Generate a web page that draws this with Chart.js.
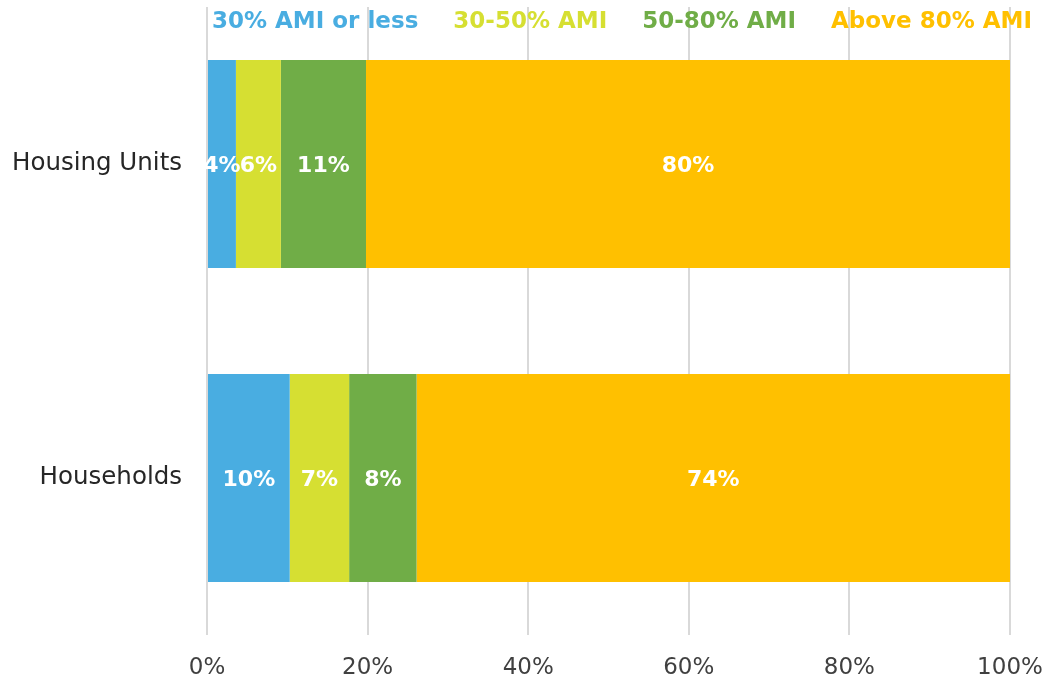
<!DOCTYPE html>
<html>
<head>
<meta charset="utf-8">
<title>Affordability by AMI</title>
<script src="https://cdn.jsdelivr.net/npm/chart.js@4.4.1/dist/chart.umd.min.js"></script>
<style>
  html, body { margin: 0; padding: 0; background: #fff; }
  #wrap { width: 1047px; height: 685px; position: relative; }
</style>
</head>
<body>
<div id="wrap"><canvas id="myChart"></canvas></div>
<script>
const categories = ["Housing Units", "Households"];
const seriesNames = ["30% AMI or less", "30-50% AMI", "50-80% AMI", "Above 80% AMI"];
const seriesColors = ["#49ADE1", "#D6DF32", "#70AD47", "#FFC000"];
const ami30 = [3.6, 10.3];
const ami30to50 = [5.6, 7.4];
const ami50to80 = [10.6, 8.4];
const amiAbove80 = [80.2, 73.9];
const xTicks = [0, 20, 40, 60, 80, 100];

const FONT = "'DejaVu Sans', sans-serif";

// white percentage labels centred in each bar segment
const barLabels = {
  id: "barLabels",
  afterDatasetsDraw(chart) {
    const ctx = chart.ctx;
    ctx.save();
    ctx.fillStyle = "#fff";
    ctx.font = "bold 22px " + FONT;
    ctx.textAlign = "center";
    ctx.textBaseline = "middle";
    chart.data.datasets.forEach((ds, i) => {
      chart.getDatasetMeta(i).data.forEach((bar, j) => {
        const p = bar.getProps(["x", "y", "base"], true);
        ctx.fillText(Math.round(ds.data[j]) + "%", (p.x + p.base) / 2, p.y + 2);
      });
    });
    ctx.restore();
  },
};

// legend as coloured text across the top of the plot
const textLegend = {
  id: "textLegend",
  afterDraw(chart) {
    const ctx = chart.ctx;
    ctx.save();
    ctx.font = "bold 23px " + FONT;
    ctx.textBaseline = "middle";
    ctx.textAlign = "left";
    let x = chart.chartArea.left + 5;
    seriesNames.forEach((name, i) => {
      ctx.fillStyle = seriesColors[i];
      ctx.fillText(name, x, 22);
      x += ctx.measureText(name).width + 35;
    });
    ctx.restore();
  },
};

const seriesData = [ami30, ami30to50, ami50to80, amiAbove80];

new Chart(document.getElementById("myChart").getContext("2d"), {
  type: "bar",
  data: {
    labels: categories,
    datasets: seriesNames.map((name, i) => ({
      label: name,
      data: seriesData[i],
      backgroundColor: seriesColors[i],
      borderWidth: 0,
      barPercentage: 0.662,
      categoryPercentage: 1,
    })),
  },
  options: {
    indexAxis: "y",
    responsive: true,
    maintainAspectRatio: false,
    animation: false,
    layout: { padding: { top: 7, right: 37, left: 0, bottom: 0 } },
    scales: {
      x: {
        stacked: true,
        min: 0,
        max: 100,
        afterBuildTicks: (scale) => {
          scale.ticks = xTicks.map((v) => ({ value: v }));
        },
        afterFit: (scale) => {
          scale.height = 50;
          scale.paddingLeft = 0;
          scale.paddingRight = 0;
        },
        grid: { color: "#D9D9D9", lineWidth: 2, drawTicks: false },
        border: { display: false },
        ticks: {
          padding: 19,
          color: "#404040",
          font: { family: FONT, size: 23 },
          callback: (v) => v + "%",
        },
      },
      y: {
        stacked: true,
        afterFit: (scale) => {
          scale.width = 207;
          scale.paddingTop = 0;
          scale.paddingBottom = 0;
        },
        grid: { display: false },
        border: { display: false },
        ticks: {
          padding: 17,
          color: "#262626",
          font: { family: FONT, size: 24.5 },
        },
      },
    },
    plugins: {
      legend: { display: false },
      tooltip: { enabled: false },
    },
  },
  plugins: [barLabels, textLegend],
});
</script>
</body>
</html>
